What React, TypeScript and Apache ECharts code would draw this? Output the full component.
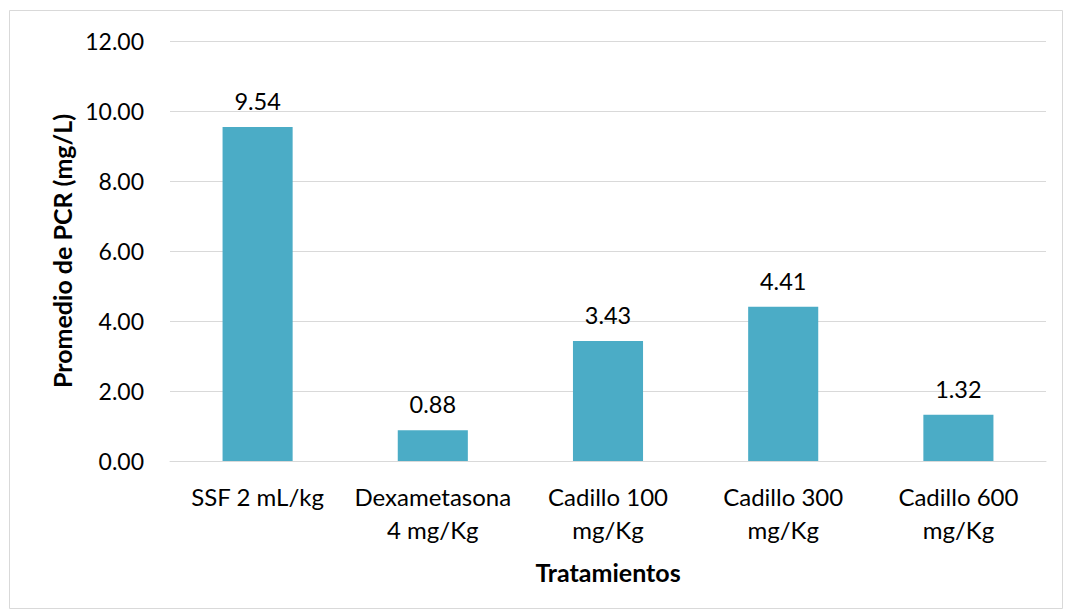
import React, { useEffect, useRef } from "react";
import * as echarts from "echarts";

const categories = ["SSF 2 mL/kg", "Dexametasona\n4 mg/Kg", "Cadillo 100\nmg/Kg", "Cadillo 300\nmg/Kg", "Cadillo 600\nmg/Kg"];
const values = [9.54, 0.88, 3.43, 4.41, 1.32];
const yTicks = { min: 0, max: 12, interval: 2 };
const yName = "Promedio de PCR (mg/L)";
const xName = "Tratamientos";

const FONT = "Lato, 'Open Sans', sans-serif";

export default function App() {
  const ref = useRef<HTMLDivElement>(null);
  useEffect(() => {
    const chart = echarts.init(ref.current!, null, { renderer: "svg" });
    chart.setOption({
      animation: false,
      backgroundColor: "#ffffff",
      textStyle: { fontFamily: FONT },
      grid: { left: 170, right: 19, top: 41, bottom: 149, containLabel: false },
      graphic: [
        {
          type: "rect",
          shape: { x: 9.5, y: 10.5, width: 1053, height: 598 },
          style: { fill: "none", stroke: "#d9d9d9", lineWidth: 1 },
          silent: true,
        },
      ],
      xAxis: {
        type: "category",
        data: categories,
        name: xName,
        nameLocation: "middle",
        nameGap: 98,
        nameTextStyle: { fontFamily: FONT, fontSize: 25, fontWeight: "bold", color: "#000" },
        axisLine: { lineStyle: { color: "#d9d9d9", width: 1 } },
        axisTick: { show: false },
        axisLabel: { fontFamily: FONT, fontSize: 24, color: "#000", margin: 19, lineHeight: 33, interval: 0 },
      },
      yAxis: {
        type: "value",
        min: yTicks.min,
        max: yTicks.max,
        interval: yTicks.interval,
        name: yName,
        nameLocation: "middle",
        nameGap: 96,
        nameTextStyle: { fontFamily: FONT, fontSize: 25, fontWeight: "bold", color: "#000" },
        axisLine: { show: false },
        axisTick: { show: false },
        splitLine: { lineStyle: { color: "#d9d9d9", width: 1 } },
        axisLabel: {
          fontFamily: FONT,
          fontSize: 23,
          color: "#000",
          margin: 26,
          formatter: (v: number) => v.toFixed(2),
        },
      },
      series: [
        {
          type: "bar",
          data: values,
          barWidth: "40%",
          itemStyle: { color: "#4BACC6" },
          label: {
            show: true,
            position: "top",
            distance: 14,
            fontFamily: FONT,
            fontSize: 23.5,
            color: "#000",
            formatter: (p: any) => Number(p.value).toFixed(2),
          },
        },
      ],
    });
    return () => chart.dispose();
  }, []);
  return (
    <div
      ref={ref}
      style={{ position: "fixed", left: 0, top: 0, width: 1065, height: 610 }}
    />
  );
}
